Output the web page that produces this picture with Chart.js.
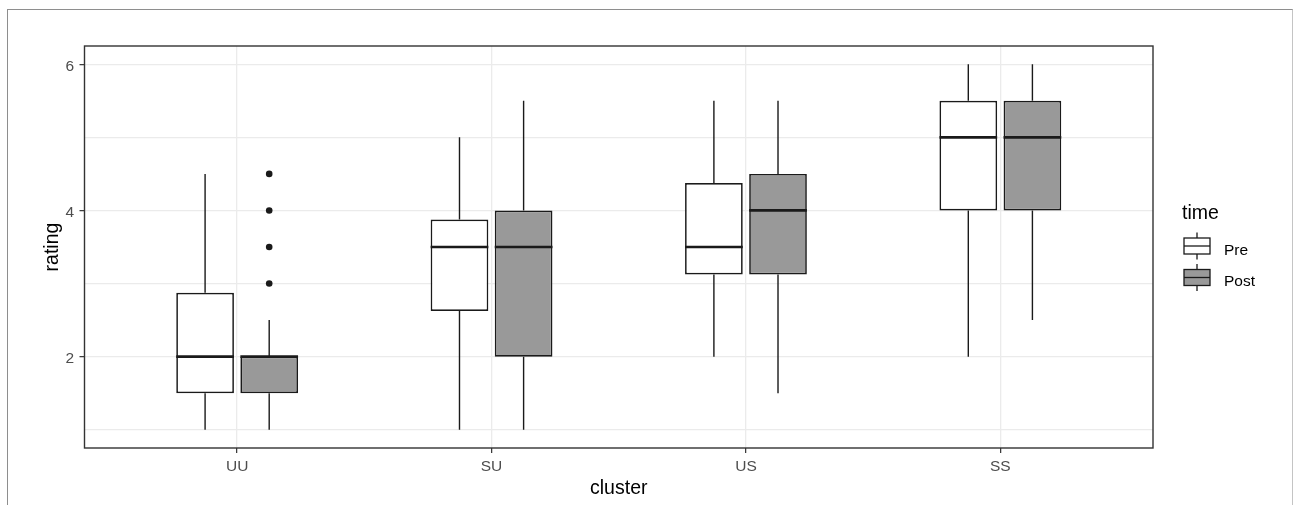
<!DOCTYPE html>
<html>
<head>
<meta charset="utf-8">
<script src="https://cdn.jsdelivr.net/npm/chart.js@4.4.1/dist/chart.umd.min.js"></script>
<style>
  html, body { margin: 0; padding: 0; background: #fff; }
  #wrap { position: relative; width: 1293px; height: 505px; overflow: hidden; }
  #frame { position: absolute; left: 7px; top: 9px; width: 1284px; height: 520px;
           border-left: 1px solid #8e8e8e; border-top: 1px solid #8e8e8e; border-right: 1px solid #c4c4c4; }
  canvas { position: absolute; left: 0; top: 0; }
</style>
</head>
<body>
<div id="wrap"><div id="frame"></div><canvas id="chart" width="1293" height="505"></canvas></div>
<script>
// --- data ---
const categories = ['UU', 'SU', 'US', 'SS'];
const seriesNames = ['Pre', 'Post'];

const preLow    = [1.0, 1.0, 2.0, 2.0];
const preQ1     = [1.5, 2.625, 3.125, 4.0];
const preMedian = [2.0, 3.5, 3.5, 5.0];
const preQ3     = [2.875, 3.875, 4.375, 5.5];
const preHigh   = [4.5, 5.0, 5.5, 6.0];

const postLow    = [1.0, 1.0, 1.5, 2.5];
const postQ1     = [1.5, 2.0, 3.125, 4.0];
const postMedian = [2.0, 3.5, 4.0, 5.0];
const postQ3     = [2.0, 4.0, 4.5, 5.5];
const postHigh   = [2.5, 5.5, 5.5, 6.0];

// outliers: [cluster index, series index, rating]
const outliers = [[0, 1, 3.0], [0, 1, 3.5], [0, 1, 4.0], [0, 1, 4.5]];

const yTicks = [1, 2, 3, 4, 5, 6];

const INK = '#1a1a1a';
const FONT = '"Liberation Sans", Arial, sans-serif';
const GRID = '#ebebeb';

function boxDataset(label, q1, q3, low, median, high, fill) {
  return {
    label: label,
    data: categories.map((c, i) => ({ x: i + 1, y: [q1[i], q3[i]] })),
    backgroundColor: fill,
    borderColor: INK,
    borderWidth: 1.7,
    borderSkipped: false,
    low: low, median: median, high: high, q1: q1, q3: q3
  };
}

// whiskers, medians and outlier dots on top of the bars
const boxExtras = {
  id: 'boxExtras',
  afterDatasetsDraw(chart) {
    const ctx = chart.ctx;
    const ys = chart.scales.y;
    ctx.save();
    ctx.strokeStyle = INK;
    chart.data.datasets.forEach((ds, di) => {
      const meta = chart.getDatasetMeta(di);
      meta.data.forEach((bar, i) => {
        const { x, width } = bar.getProps(['x', 'width'], true);
        ctx.lineWidth = 1.4;
        ctx.beginPath();
        ctx.moveTo(x, ys.getPixelForValue(ds.q3[i]));
        ctx.lineTo(x, ys.getPixelForValue(ds.high[i]));
        ctx.moveTo(x, ys.getPixelForValue(ds.q1[i]));
        ctx.lineTo(x, ys.getPixelForValue(ds.low[i]));
        ctx.stroke();
        ctx.lineWidth = 2.7;
        const my = ys.getPixelForValue(ds.median[i]);
        ctx.beginPath();
        ctx.moveTo(x - width / 2, my);
        ctx.lineTo(x + width / 2, my);
        ctx.stroke();
      });
    });
    ctx.fillStyle = INK;
    outliers.forEach(([ci, si, v]) => {
      const bar = chart.getDatasetMeta(si).data[ci];
      ctx.beginPath();
      ctx.arc(bar.x, ys.getPixelForValue(v), 3.3, 0, Math.PI * 2);
      ctx.fill();
    });
    ctx.restore();
  },
  afterDraw(chart) {
    const ctx = chart.ctx;
    const a = chart.chartArea;
    ctx.save();
    // panel border
    ctx.strokeStyle = '#333333';
    ctx.lineWidth = 1.4;
    ctx.strokeRect(a.left, a.top, a.right - a.left, a.bottom - a.top);

    // legend
    ctx.fillStyle = '#000';
    ctx.textBaseline = 'alphabetic';
    ctx.font = '19.5px ' + FONT;
    ctx.fillText('time', 1182, 219);
    const keys = [
      { cy: 246, base: 255 },
      { cy: 277.5, base: 285.5 }
    ];
    chart.data.datasets.forEach((ds, k) => {
      const key = keys[k];
      const cx = 1197, half = 13;
      ctx.strokeStyle = INK;
      ctx.lineWidth = 1.3;
      ctx.beginPath();
      ctx.moveTo(cx, key.cy - 13.5); ctx.lineTo(cx, key.cy - 8);
      ctx.moveTo(cx, key.cy + 8); ctx.lineTo(cx, key.cy + 13.5);
      ctx.stroke();
      ctx.fillStyle = ds.backgroundColor;
      ctx.fillRect(cx - half, key.cy - 8, half * 2, 16);
      ctx.strokeRect(cx - half, key.cy - 8, half * 2, 16);
      ctx.beginPath();
      ctx.moveTo(cx - half, key.cy); ctx.lineTo(cx + half, key.cy);
      ctx.stroke();
      ctx.fillStyle = '#000';
      ctx.font = '15.5px ' + FONT;
      ctx.fillText(ds.label, 1224, key.base);
    });
    ctx.restore();
  }
};

new Chart(document.getElementById('chart'), {
  type: 'bar',
  data: {
    datasets: [
      boxDataset(seriesNames[0], preQ1, preQ3, preLow, preMedian, preHigh, '#ffffff'),
      boxDataset(seriesNames[1], postQ1, postQ3, postLow, postMedian, postHigh, '#999999')
    ]
  },
  options: {
    responsive: false,
    animation: false,
    categoryPercentage: 0.504,
    barPercentage: 0.9,
    layout: { padding: { top: 46, right: 140, left: 0, bottom: 0 } },
    plugins: { legend: { display: false }, tooltip: { enabled: false } },
    scales: {
      x: {
        type: 'linear',
        min: 0.4,
        max: 4.6,
        offset: false,
        afterBuildTicks: s => { s.ticks = categories.map((c, i) => ({ value: i + 1 })); },
        afterFit: s => { s.height = 57; },
        grid: { offset: false, color: GRID, lineWidth: 1.3, tickColor: '#333333', tickLength: 5, tickWidth: 1.2 },
        border: { display: false },
        ticks: {
          callback: v => categories[v - 1],
          color: '#4d4d4d', padding: 4.6, maxRotation: 0,
          font: { family: FONT, size: 15.5 }
        },
        title: {
          display: true, text: 'cluster', color: '#000',
          font: { family: FONT, size: 19.5 }, padding: { top: 4.3, bottom: 4.3 }
        }
      },
      y: {
        min: 0.75,
        max: 6.25,
        afterBuildTicks: s => { s.ticks = yTicks.map(v => ({ value: v })); },
        afterFit: s => { s.width = 84.5; },
        grid: {
          color: GRID, lineWidth: 1.3, tickLength: 5, tickWidth: 1.2,
          tickColor: c => (c.tick && c.tick.value % 2 === 0) ? '#333333' : 'rgba(0,0,0,0)'
        },
        border: { display: false },
        ticks: {
          callback: v => (v % 2 === 0 ? String(v) : ''),
          color: '#4d4d4d', padding: 5.5, labelOffset: 2,
          font: { family: FONT, size: 15.5 }
        },
        title: {
          display: true, text: 'rating', color: '#000',
          font: { family: FONT, size: 19.5 }, padding: { top: 40.6, bottom: 40.6 }
        }
      }
    }
  },
  plugins: [boxExtras]
});
</script>
</body>
</html>
